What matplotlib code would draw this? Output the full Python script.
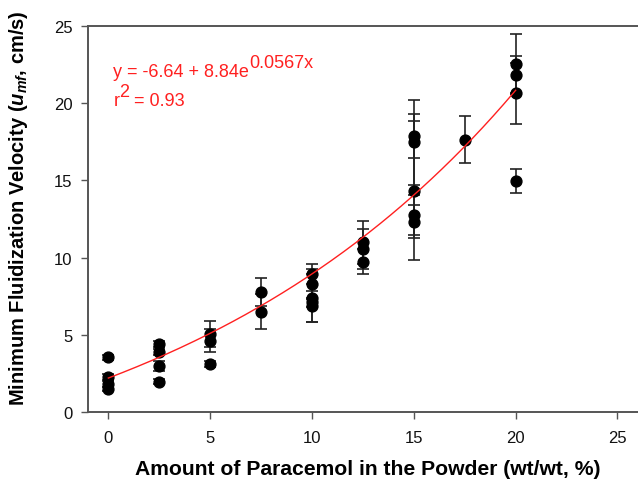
import numpy as np
import matplotlib
matplotlib.use("Agg")
import matplotlib.pyplot as plt

plt.rcParams['font.family'] = ['Liberation Sans', 'DejaVu Sans']
plt.rcParams['mathtext.fontset'] = 'custom'
plt.rcParams['mathtext.it'] = 'Liberation Sans:italic:bold'
plt.rcParams['mathtext.rm'] = 'Liberation Sans'

# Data (wt/wt % paracetamol, minimum fluidization velocity cm/s, error)
x_vals = [0, 0, 0, 0,
          2.5, 2.5, 2.5, 2.5,
          5, 5, 5,
          7.5, 7.5,
          10, 10, 10, 10, 10,
          12.5, 12.5, 12.5,
          15, 15, 15, 15, 15,
          17.5,
          20, 20, 20, 20]
y_vals = [3.55, 2.25, 1.8, 1.5,
          4.4, 3.9, 3.0, 1.96,
          5.05, 4.62, 3.1,
          7.75, 6.5,
          8.94, 8.29, 7.36, 7.1, 6.85,
          10.99, 10.56, 9.74,
          17.9, 17.47, 14.33, 12.76, 12.33,
          17.64,
          22.54, 21.85, 20.64, 14.94]
y_err = [0.15, 0.2, 0.2, 0.15,
         0.2, 0.2, 0.33, 0.15,
         0.86, 0.75, 0.2,
         0.9, 1.12,
         0.64, 0.95, 1.56, 0.3, 1.0,
         1.4, 1.29, 0.8,
         1.43, 2.76, 4.5, 1.28, 1.06,
         1.52,
         1.94, 1.2, 1.99, 0.77]

# Fitted curve parameters (as displayed): y = a + b*exp(c*x)
fit_a, fit_b, fit_c = -6.64, 8.84, 0.0567
fit_xmin, fit_xmax = 0, 20

x_ticks = [0, 5, 10, 15, 20, 25]
y_ticks = [0, 5, 10, 15, 20, 25]

fig = plt.figure(figsize=(6.38, 4.85), dpi=100)
ax = fig.add_axes([88/638, 72/485, 560/638, 386/485])

spine_col = '#555555'
err_col = '#222222'
red = '#ff2020'
ax.errorbar(x_vals, y_vals, yerr=y_err, fmt='o', color='black', ms=7.8,
            ecolor=err_col, elinewidth=1.2, capsize=4.5, capthick=1.2, zorder=3)

xf = np.linspace(fit_xmin, fit_xmax, 200)
ax.plot(xf, fit_a + fit_b*np.exp(fit_c*xf), color=red, lw=1.0, zorder=4)

ax.set_xlim(-1, 26.5)
ax.set_ylim(0, 25)
ax.set_xticks(x_ticks)
ax.set_yticks(y_ticks)
for s in ['left', 'bottom', 'top']:
    ax.spines[s].set_color(spine_col)
    ax.spines[s].set_linewidth(1.4)
ax.spines['right'].set_visible(False)
ax.tick_params(direction='out', length=5, width=1, color=spine_col,
               labelsize=12, labelcolor='#111111', pad=6)
ax.tick_params(axis='x', pad=8)

ax.set_xlabel('Amount of Paracemol in the Powder (wt/wt, %)', fontsize=15.2,
              fontweight='bold', labelpad=10)
ax.set_ylabel(r'Minimum Fluidization Velocity ($\mathit{u}_{\mathit{mf}}$, cm/s)',
              fontsize=14.5, fontweight='bold')
ax.yaxis.set_label_coords(-0.103, 0.53)

fs_eq = 13
t1 = ax.text(0.25, 22.05, 'y = -6.64 + 8.84e', color=red, fontsize=fs_eq, va='center')
ax.annotate('0.0567x', xy=(1.0, 0.55), xycoords=t1, color=red, fontsize=fs_eq,
            va='bottom', ha='left')
t2 = ax.text(0.25, 20.15, 'r', color=red, fontsize=fs_eq, va='center')
t3 = ax.annotate('2', xy=(1.0, 0.55), xycoords=t2, color=red, fontsize=fs_eq,
                 va='bottom', ha='left')
ax.annotate(' = 0.93', xy=(1.0, 0.0), xycoords=(t3, t2), color=red, fontsize=fs_eq,
            va='bottom', ha='left')

fig.savefig('out.png', dpi=100)
